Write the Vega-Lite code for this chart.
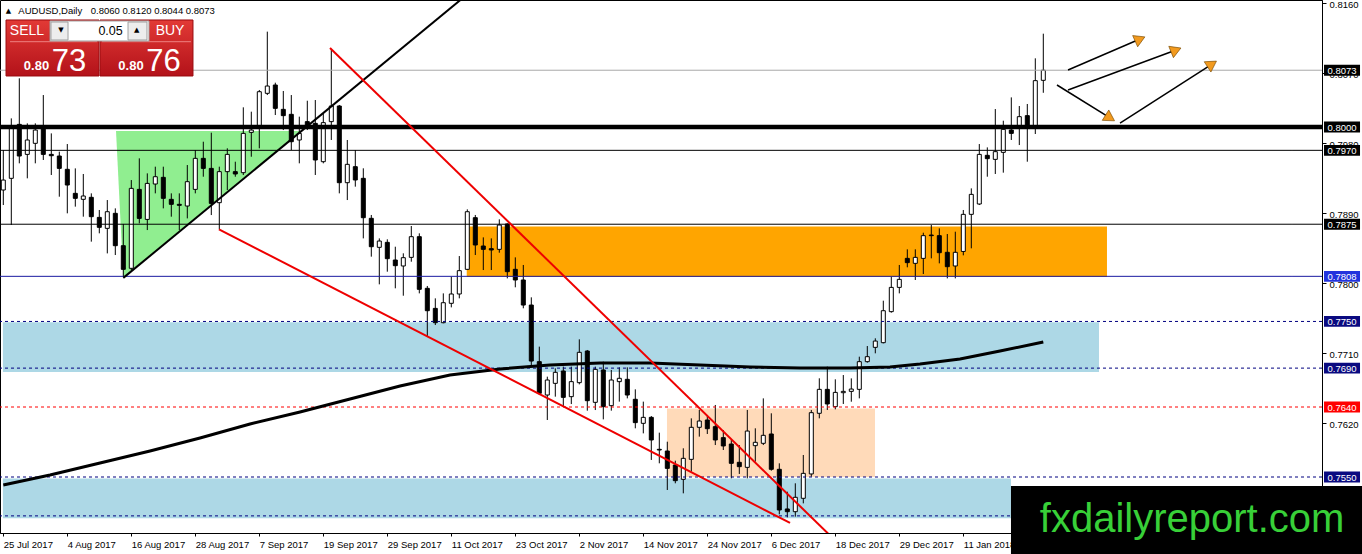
{
  "$schema": "https://vega.github.io/schema/vega-lite/v6.json",
  "width": 1322,
  "height": 533,
  "autosize": {"type": "none"},
  "padding": {"left": 0, "top": 0, "right": 40, "bottom": 21},
  "background": "#FFFFFF",
  "config": {
    "view": {"stroke": "#000000", "strokeWidth": 1},
    "axis": {
      "labelFont": "Liberation Sans",
      "labelFontSize": 9.5,
      "labelColor": "#000000",
      "domainColor": "#000000",
      "tickColor": "#000000",
      "grid": false
    },
    "text": {"font": "Liberation Sans"}
  },
  "datasets": {
    "candles": [
      {"i": 0, "o": 0.7919, "h": 0.79704, "l": 0.78997, "c": 0.79318},
      {"i": 1, "o": 0.7934, "h": 0.80111, "l": 0.7874, "c": 0.80013},
      {"i": 2, "o": 0.80034, "h": 0.80626, "l": 0.79533, "c": 0.79627},
      {"i": 3, "o": 0.79648, "h": 0.80047, "l": 0.7934, "c": 0.79833},
      {"i": 4, "o": 0.7979, "h": 0.80047, "l": 0.79533, "c": 0.79961},
      {"i": 5, "o": 0.80004, "h": 0.80411, "l": 0.79576, "c": 0.79648},
      {"i": 6, "o": 0.79648, "h": 0.79918, "l": 0.79383, "c": 0.79631},
      {"i": 7, "o": 0.79627, "h": 0.79683, "l": 0.79104, "c": 0.79468},
      {"i": 8, "o": 0.79456, "h": 0.79781, "l": 0.7889, "c": 0.79254},
      {"i": 9, "o": 0.79147, "h": 0.79468, "l": 0.78976, "c": 0.79083},
      {"i": 10, "o": 0.7907, "h": 0.79396, "l": 0.78847, "c": 0.79113},
      {"i": 11, "o": 0.79096, "h": 0.79147, "l": 0.78526, "c": 0.78847},
      {"i": 12, "o": 0.78838, "h": 0.78933, "l": 0.78633, "c": 0.7871},
      {"i": 13, "o": 0.78697, "h": 0.79061, "l": 0.78375, "c": 0.78911},
      {"i": 14, "o": 0.7889, "h": 0.78954, "l": 0.78354, "c": 0.78474},
      {"i": 15, "o": 0.78474, "h": 0.78753, "l": 0.78075, "c": 0.7817},
      {"i": 16, "o": 0.78183, "h": 0.79318, "l": 0.78161, "c": 0.79211},
      {"i": 17, "o": 0.79198, "h": 0.79597, "l": 0.78761, "c": 0.78825},
      {"i": 18, "o": 0.78812, "h": 0.79404, "l": 0.78675, "c": 0.79275},
      {"i": 19, "o": 0.79267, "h": 0.7949, "l": 0.79147, "c": 0.79361},
      {"i": 20, "o": 0.79353, "h": 0.7949, "l": 0.78954, "c": 0.79083},
      {"i": 21, "o": 0.7907, "h": 0.79147, "l": 0.78847, "c": 0.79006},
      {"i": 22, "o": 0.79006, "h": 0.79147, "l": 0.78675, "c": 0.78993},
      {"i": 23, "o": 0.78984, "h": 0.79511, "l": 0.78825, "c": 0.79297},
      {"i": 24, "o": 0.79198, "h": 0.79704, "l": 0.79147, "c": 0.79597},
      {"i": 25, "o": 0.79597, "h": 0.79811, "l": 0.79361, "c": 0.79468},
      {"i": 26, "o": 0.79468, "h": 0.79927, "l": 0.78868, "c": 0.79018},
      {"i": 27, "o": 0.79027, "h": 0.7949, "l": 0.78684, "c": 0.79426},
      {"i": 28, "o": 0.79426, "h": 0.79726, "l": 0.7919, "c": 0.79648},
      {"i": 29, "o": 0.79426, "h": 0.79554, "l": 0.79361, "c": 0.79396},
      {"i": 30, "o": 0.79413, "h": 0.80253, "l": 0.79383, "c": 0.79918},
      {"i": 31, "o": 0.79931, "h": 0.80197, "l": 0.79618, "c": 0.79961},
      {"i": 32, "o": 0.80004, "h": 0.80476, "l": 0.79726, "c": 0.80454},
      {"i": 33, "o": 0.80433, "h": 0.81226, "l": 0.80411, "c": 0.80527},
      {"i": 34, "o": 0.8054, "h": 0.8057, "l": 0.80154, "c": 0.8024},
      {"i": 35, "o": 0.80227, "h": 0.80463, "l": 0.79961, "c": 0.80146},
      {"i": 36, "o": 0.80163, "h": 0.80411, "l": 0.79704, "c": 0.79811},
      {"i": 37, "o": 0.79833, "h": 0.80133, "l": 0.79533, "c": 0.79918},
      {"i": 38, "o": 0.80069, "h": 0.80338, "l": 0.79961, "c": 0.80004},
      {"i": 39, "o": 0.80047, "h": 0.80347, "l": 0.79383, "c": 0.79576},
      {"i": 40, "o": 0.79554, "h": 0.80176, "l": 0.79533, "c": 0.80056},
      {"i": 41, "o": 0.80069, "h": 0.80999, "l": 0.79833, "c": 0.8027},
      {"i": 42, "o": 0.8027, "h": 0.80283, "l": 0.79147, "c": 0.79284},
      {"i": 43, "o": 0.79284, "h": 0.79833, "l": 0.79061, "c": 0.7952},
      {"i": 44, "o": 0.7949, "h": 0.79704, "l": 0.79233, "c": 0.79319},
      {"i": 45, "o": 0.7934, "h": 0.79469, "l": 0.78568, "c": 0.78834},
      {"i": 46, "o": 0.78826, "h": 0.78869, "l": 0.78333, "c": 0.78461},
      {"i": 47, "o": 0.78453, "h": 0.78568, "l": 0.77977, "c": 0.78534},
      {"i": 48, "o": 0.78517, "h": 0.78556, "l": 0.7814, "c": 0.78307},
      {"i": 49, "o": 0.7829, "h": 0.78461, "l": 0.77926, "c": 0.78217},
      {"i": 50, "o": 0.78213, "h": 0.78376, "l": 0.77831, "c": 0.7832},
      {"i": 51, "o": 0.78324, "h": 0.78727, "l": 0.78268, "c": 0.7859},
      {"i": 52, "o": 0.7859, "h": 0.78633, "l": 0.77861, "c": 0.77913},
      {"i": 53, "o": 0.77926, "h": 0.77956, "l": 0.77304, "c": 0.77638},
      {"i": 54, "o": 0.77668, "h": 0.77797, "l": 0.77454, "c": 0.77484},
      {"i": 55, "o": 0.77484, "h": 0.77861, "l": 0.77476, "c": 0.77741},
      {"i": 56, "o": 0.77733, "h": 0.78076, "l": 0.77681, "c": 0.77853},
      {"i": 57, "o": 0.77853, "h": 0.78341, "l": 0.77797, "c": 0.78153},
      {"i": 58, "o": 0.7817, "h": 0.78941, "l": 0.78161, "c": 0.78911},
      {"i": 59, "o": 0.78834, "h": 0.78869, "l": 0.78354, "c": 0.78483},
      {"i": 60, "o": 0.7847, "h": 0.78581, "l": 0.78161, "c": 0.78427},
      {"i": 61, "o": 0.78436, "h": 0.78568, "l": 0.78161, "c": 0.78419},
      {"i": 62, "o": 0.78427, "h": 0.78813, "l": 0.78384, "c": 0.7874},
      {"i": 63, "o": 0.78753, "h": 0.78761, "l": 0.78054, "c": 0.7814},
      {"i": 64, "o": 0.7817, "h": 0.78324, "l": 0.77939, "c": 0.78033},
      {"i": 65, "o": 0.78033, "h": 0.78226, "l": 0.77669, "c": 0.77711},
      {"i": 66, "o": 0.77711, "h": 0.7781, "l": 0.7694, "c": 0.76991},
      {"i": 67, "o": 0.76983, "h": 0.77176, "l": 0.76554, "c": 0.76576},
      {"i": 68, "o": 0.76554, "h": 0.7679, "l": 0.76233, "c": 0.76747},
      {"i": 69, "o": 0.76704, "h": 0.76897, "l": 0.76533, "c": 0.76846},
      {"i": 70, "o": 0.76863, "h": 0.76919, "l": 0.76404, "c": 0.76524},
      {"i": 71, "o": 0.76533, "h": 0.76919, "l": 0.76438, "c": 0.76726},
      {"i": 72, "o": 0.76713, "h": 0.7727, "l": 0.76691, "c": 0.77103},
      {"i": 73, "o": 0.7712, "h": 0.77133, "l": 0.76353, "c": 0.76481},
      {"i": 74, "o": 0.7646, "h": 0.76919, "l": 0.76361, "c": 0.76884},
      {"i": 75, "o": 0.76876, "h": 0.76983, "l": 0.76241, "c": 0.76404},
      {"i": 76, "o": 0.76417, "h": 0.76876, "l": 0.76353, "c": 0.76747},
      {"i": 77, "o": 0.76726, "h": 0.7691, "l": 0.76469, "c": 0.76769},
      {"i": 78, "o": 0.76756, "h": 0.7691, "l": 0.76511, "c": 0.76554},
      {"i": 79, "o": 0.76499, "h": 0.76627, "l": 0.76126, "c": 0.76199},
      {"i": 80, "o": 0.7619, "h": 0.76469, "l": 0.76061, "c": 0.76267},
      {"i": 81, "o": 0.76267, "h": 0.76284, "l": 0.75719, "c": 0.75976},
      {"i": 82, "o": 0.75856, "h": 0.7607, "l": 0.75676, "c": 0.75847},
      {"i": 83, "o": 0.75834, "h": 0.75954, "l": 0.75333, "c": 0.75611},
      {"i": 84, "o": 0.75654, "h": 0.7571, "l": 0.75419, "c": 0.75453},
      {"i": 85, "o": 0.7547, "h": 0.75869, "l": 0.7529, "c": 0.7574},
      {"i": 86, "o": 0.75727, "h": 0.76254, "l": 0.75569, "c": 0.76139},
      {"i": 87, "o": 0.76139, "h": 0.76362, "l": 0.76019, "c": 0.7622},
      {"i": 88, "o": 0.76233, "h": 0.76297, "l": 0.76053, "c": 0.76121},
      {"i": 89, "o": 0.76147, "h": 0.76426, "l": 0.75911, "c": 0.75976},
      {"i": 90, "o": 0.76006, "h": 0.76104, "l": 0.75847, "c": 0.75899},
      {"i": 91, "o": 0.75924, "h": 0.75976, "l": 0.75483, "c": 0.75676},
      {"i": 92, "o": 0.75689, "h": 0.75911, "l": 0.75539, "c": 0.75633},
      {"i": 93, "o": 0.75624, "h": 0.76362, "l": 0.75483, "c": 0.76091},
      {"i": 94, "o": 0.75903, "h": 0.76126, "l": 0.75697, "c": 0.75946},
      {"i": 95, "o": 0.75933, "h": 0.76511, "l": 0.75911, "c": 0.76036},
      {"i": 96, "o": 0.76053, "h": 0.76319, "l": 0.75581, "c": 0.75599},
      {"i": 97, "o": 0.75599, "h": 0.75676, "l": 0.7502, "c": 0.75076},
      {"i": 98, "o": 0.75089, "h": 0.75311, "l": 0.74981, "c": 0.75054},
      {"i": 99, "o": 0.75054, "h": 0.75419, "l": 0.7499, "c": 0.75239},
      {"i": 100, "o": 0.75226, "h": 0.75783, "l": 0.75161, "c": 0.75547},
      {"i": 101, "o": 0.75539, "h": 0.76362, "l": 0.75504, "c": 0.76327},
      {"i": 102, "o": 0.76319, "h": 0.76769, "l": 0.76254, "c": 0.76627},
      {"i": 103, "o": 0.76627, "h": 0.76919, "l": 0.76362, "c": 0.76439},
      {"i": 104, "o": 0.76404, "h": 0.76756, "l": 0.7637, "c": 0.76588},
      {"i": 105, "o": 0.76584, "h": 0.76811, "l": 0.76439, "c": 0.76601},
      {"i": 106, "o": 0.76601, "h": 0.76768, "l": 0.76468, "c": 0.76631},
      {"i": 107, "o": 0.76627, "h": 0.77047, "l": 0.76511, "c": 0.76983},
      {"i": 108, "o": 0.76983, "h": 0.77184, "l": 0.7697, "c": 0.77047},
      {"i": 109, "o": 0.77167, "h": 0.77283, "l": 0.7709, "c": 0.77248},
      {"i": 110, "o": 0.77227, "h": 0.77767, "l": 0.77218, "c": 0.77638},
      {"i": 111, "o": 0.77626, "h": 0.78076, "l": 0.77613, "c": 0.77938},
      {"i": 112, "o": 0.77938, "h": 0.78226, "l": 0.77861, "c": 0.78041},
      {"i": 113, "o": 0.78311, "h": 0.78427, "l": 0.78196, "c": 0.78256},
      {"i": 114, "o": 0.78247, "h": 0.78427, "l": 0.78033, "c": 0.78324},
      {"i": 115, "o": 0.78311, "h": 0.78641, "l": 0.7811, "c": 0.78603},
      {"i": 116, "o": 0.78611, "h": 0.7874, "l": 0.78311, "c": 0.78603},
      {"i": 117, "o": 0.78603, "h": 0.78697, "l": 0.78247, "c": 0.78384},
      {"i": 118, "o": 0.78389, "h": 0.78624, "l": 0.78054, "c": 0.78204},
      {"i": 119, "o": 0.78213, "h": 0.78654, "l": 0.78054, "c": 0.78389},
      {"i": 120, "o": 0.784, "h": 0.78933, "l": 0.7835, "c": 0.78877},
      {"i": 121, "o": 0.78877, "h": 0.79211, "l": 0.7844, "c": 0.79134},
      {"i": 122, "o": 0.7901, "h": 0.79781, "l": 0.78997, "c": 0.79648},
      {"i": 123, "o": 0.79636, "h": 0.79738, "l": 0.79361, "c": 0.79593},
      {"i": 124, "o": 0.79584, "h": 0.80231, "l": 0.79396, "c": 0.79683},
      {"i": 125, "o": 0.79674, "h": 0.80081, "l": 0.79413, "c": 0.7997},
      {"i": 126, "o": 0.79961, "h": 0.80381, "l": 0.79833, "c": 0.79918},
      {"i": 127, "o": 0.80004, "h": 0.8027, "l": 0.79768, "c": 0.80133},
      {"i": 128, "o": 0.80146, "h": 0.80296, "l": 0.79554, "c": 0.80004},
      {"i": 129, "o": 0.80004, "h": 0.80883, "l": 0.7991, "c": 0.80596},
      {"i": 130, "o": 0.806, "h": 0.812, "l": 0.8044, "c": 0.8073}
    ],
    "ma": [
      {"i": 0, "v": 0.75397},
      {"i": 5.84, "v": 0.75526},
      {"i": 12.09, "v": 0.7568},
      {"i": 18.34, "v": 0.75834},
      {"i": 24.59, "v": 0.76002},
      {"i": 30.84, "v": 0.76182},
      {"i": 37.09, "v": 0.76336},
      {"i": 43.34, "v": 0.76503},
      {"i": 49.59, "v": 0.7667},
      {"i": 55.84, "v": 0.76812},
      {"i": 62.09, "v": 0.76889},
      {"i": 68.34, "v": 0.7694},
      {"i": 74.59, "v": 0.76966},
      {"i": 80.84, "v": 0.76966},
      {"i": 87.09, "v": 0.7694},
      {"i": 93.34, "v": 0.76914},
      {"i": 99.59, "v": 0.76902},
      {"i": 105.84, "v": 0.76902},
      {"i": 110.84, "v": 0.76914},
      {"i": 114.59, "v": 0.76953},
      {"i": 119.59, "v": 0.77017},
      {"i": 124.59, "v": 0.7712},
      {"i": 130, "v": 0.77236}
    ],
    "levels": [
      {"p": 0.8073, "kind": "current"},
      {"p": 0.8, "kind": "major"},
      {"p": 0.797, "kind": "black"},
      {"p": 0.7875, "kind": "black"},
      {"p": 0.7808, "kind": "blue"},
      {"p": 0.775, "kind": "navy"},
      {"p": 0.769, "kind": "navy"},
      {"p": 0.764, "kind": "red"},
      {"p": 0.755, "kind": "navy"},
      {"p": 0.75, "kind": "navy"}
    ],
    "zones": [
      {"x1": 57.93, "x2": 137.96, "lo": 0.7807, "hi": 0.7872, "zone": "orange"},
      {"x1": -0.05, "x2": 136.96, "lo": 0.7685, "hi": 0.7749, "zone": "blue"},
      {"x1": -0.05, "x2": 125.96, "lo": 0.7497, "hi": 0.7548, "zone": "blue"},
      {"x1": 82.96, "x2": 108.96, "lo": 0.755, "hi": 0.7638, "zone": "peach"}
    ],
    "triangle": [
      {"i": 14.09, "lo": 0.79949, "hi": 0.79949},
      {"i": 15.0, "lo": 0.7806, "hi": 0.79949},
      {"i": 37.3, "lo": 0.79949, "hi": 0.79949}
    ],
    "trends": [
      {"x1": 15.0, "y1": 0.7806, "x2": 60, "y2": 0.81876, "col": "black"},
      {"x1": 40.84, "y1": 0.81016, "x2": 105, "y2": 0.74582, "col": "red"},
      {"x1": 26.96, "y1": 0.78685, "x2": 98.34, "y2": 0.74909, "col": "red"}
    ],
    "arrows": [
      {"x1": 133.09, "y1": 0.80733, "x2": 142.09, "y2": 0.81131, "dir": 66},
      {"x1": 133.09, "y1": 0.80476, "x2": 146.59, "y2": 0.8099, "dir": 68},
      {"x1": 131.71, "y1": 0.8054, "x2": 138.34, "y2": 0.80116, "dir": 122},
      {"x1": 139.59, "y1": 0.80051, "x2": 151.09, "y2": 0.8081, "dir": 57}
    ],
    "panel": [
      {"x1": 0.34, "x2": 11.96, "y1": 0.81376, "y2": 0.80656},
      {"x1": 12.09, "x2": 23.71, "y1": 0.81376, "y2": 0.80656}
    ],
    "seps": [
      {"x1": 0.84, "x2": 11.71, "y": 0.81097},
      {"x1": 12.34, "x2": 23.46, "y": 0.81097}
    ],
    "spin": [
      {"x1": 5.84, "x2": 18.21, "y1": 0.81363, "y2": 0.81106, "part": "box"},
      {"x1": 5.96, "x2": 8.09, "y1": 0.8135, "y2": 0.81119, "part": "btn"},
      {"x1": 15.59, "x2": 17.96, "y1": 0.8135, "y2": 0.81119, "part": "btn"}
    ],
    "labels": [
      {"i": 0.65, "p": 0.81491, "t": "▲", "style": "tri"},
      {"i": 1.88, "p": 0.81491, "t": "AUDUSD,Daily", "style": "hdr"},
      {"i": 10.93, "p": 0.81491, "t": "0.8060 0.8120 0.8044 0.8073", "style": "hdr"},
      {"i": 2.96, "p": 0.81234, "t": "SELL", "style": "btn"},
      {"i": 20.84, "p": 0.81234, "t": "BUY", "style": "btn"},
      {"i": 14.93, "p": 0.81234, "t": "0.05", "style": "lot"},
      {"i": 7.2, "p": 0.81247, "t": "▼", "style": "tri"},
      {"i": 16.68, "p": 0.81247, "t": "▲", "style": "tri"},
      {"i": 8.21, "p": 0.8072, "t": "73", "style": "big"},
      {"i": 20.03, "p": 0.8072, "t": "76", "style": "big"},
      {"i": 4.15, "p": 0.80733, "t": "0.80", "style": "small"},
      {"i": 15.96, "p": 0.80733, "t": "0.80", "style": "small"},
      {"i": 148.6, "p": 0.74793, "t": "fxdailyreport.com", "style": "wm"}
    ],
    "wm": [
      {"x1": 125.96, "x2": 171, "y1": 0.75384, "y2": 0.744}
    ]
  },
  "layer": [
    {
      "data": {"name": "zones"},
      "mark": {"type": "rect", "clip": true},
      "encoding": {
        "x": {
          "field": "x1",
          "type": "quantitative",
          "scale": {"domain": [-0.4125, 164.8375], "nice": false, "zero": false, "padding": 0},
          "axis": {
            "title": null,
            "values": [0, 8, 16, 24, 32, 40, 48, 56, 64, 72, 80, 88, 96, 104, 112, 120],
            "labelExpr": "['25 Jul 2017','4 Aug 2017','16 Aug 2017','28 Aug 2017','7 Sep 2017','19 Sep 2017','29 Sep 2017','11 Oct 2017','23 Oct 2017','2 Nov 2017','14 Nov 2017','24 Nov 2017','6 Dec 2017','18 Dec 2017','29 Dec 2017','11 Jan 2018'][round(datum.value / 8)]",
            "labelAlign": "left",
            "labelPadding": 3,
            "tickSize": 3,
            "labelOverlap": false,
            "labelFlush": false,
            "labelBound": false
          }
        },
        "x2": {"field": "x2"},
        "y": {
          "field": "lo",
          "type": "quantitative",
          "scale": {"domain": [0.7478, 0.81633], "nice": false, "zero": false, "padding": 0},
          "axis": {
            "title": null,
            "orient": "right",
            "values": [0.816, 0.8115, 0.807, 0.8025, 0.798, 0.7935, 0.789, 0.7845, 0.78, 0.7755, 0.771, 0.7665, 0.762, 0.7575, 0.753],
            "format": ".4f",
            "tickSize": 4,
            "labelPadding": 3,
            "labelOffset": 1.5,
            "labelOverlap": false,
            "labelFlush": false
          }
        },
        "y2": {"field": "hi"},
        "fill": {
          "condition": [
            {"test": "datum.zone === 'orange'", "value": "#FFA500"},
            {"test": "datum.zone === 'peach'", "value": "#FFDAB9"}
          ],
          "value": "#ADD8E6"
        }
      }
    },
    {
      "data": {"name": "triangle"},
      "mark": {"type": "area", "fill": "#90EE90", "orient": "vertical"},
      "encoding": {
        "x": {"field": "i", "type": "quantitative", "title": null},
        "y": {"field": "lo", "type": "quantitative", "title": null},
        "y2": {"field": "hi"}
      }
    },
    {
      "data": {"name": "candles"},
      "mark": {"type": "rule", "stroke": "#000000", "strokeWidth": 1},
      "encoding": {
        "x": {"field": "i", "type": "quantitative", "title": null},
        "y": {"field": "l", "type": "quantitative", "title": null},
        "y2": {"field": "h"}
      }
    },
    {
      "data": {"name": "candles"},
      "mark": {"type": "bar", "orient": "vertical", "width": 4, "stroke": "#000000", "strokeWidth": 1},
      "encoding": {
        "x": {"field": "i", "type": "quantitative", "title": null},
        "y": {"field": "o", "type": "quantitative", "title": null},
        "y2": {"field": "c"},
        "fill": {"condition": {"test": "datum.c >= datum.o", "value": "#FFFFFF"}, "value": "#000000"}
      }
    },
    {
      "data": {"name": "levels"},
      "mark": {"type": "rule"},
      "encoding": {
        "y": {"field": "p", "type": "quantitative", "title": null},
        "stroke": {
          "condition": [
            {"test": "datum.kind === 'current'", "value": "#A8A8A8"},
            {"test": "datum.kind === 'blue'", "value": "#1A1AA0"},
            {"test": "datum.kind === 'navy'", "value": "#000080"},
            {"test": "datum.kind === 'red'", "value": "#FF0000"}
          ],
          "value": "#000000"
        },
        "strokeWidth": {"condition": {"test": "datum.kind === 'major'", "value": 4.5}, "value": 1},
        "strokeDash": {"condition": {"test": "datum.kind === 'navy' || datum.kind === 'red'", "value": [3, 3]}, "value": [1, 0]}
      }
    },
    {
      "data": {"name": "ma"},
      "mark": {"type": "line", "stroke": "#000000", "strokeWidth": 3},
      "encoding": {
        "x": {"field": "i", "type": "quantitative", "title": null},
        "y": {"field": "v", "type": "quantitative", "title": null}
      }
    },
    {
      "data": {"name": "trends"},
      "mark": {"type": "rule", "strokeWidth": 2, "clip": true},
      "encoding": {
        "x": {"field": "x1", "type": "quantitative", "title": null},
        "y": {"field": "y1", "type": "quantitative", "title": null},
        "x2": {"field": "x2"},
        "y2": {"field": "y2"},
        "stroke": {"condition": {"test": "datum.col === 'red'", "value": "#EE0000"}, "value": "#000000"}
      }
    },
    {
      "data": {"name": "arrows"},
      "mark": {"type": "rule", "stroke": "#000000", "strokeWidth": 1.5},
      "encoding": {
        "x": {"field": "x1", "type": "quantitative", "title": null},
        "y": {"field": "y1", "type": "quantitative", "title": null},
        "x2": {"field": "x2"},
        "y2": {"field": "y2"}
      }
    },
    {
      "data": {"name": "arrows"},
      "mark": {"type": "point", "shape": "triangle-up", "filled": true, "fill": "#F29A1E", "stroke": "#7A4A00", "strokeWidth": 0.6, "size": 150, "opacity": 1},
      "encoding": {
        "x": {"field": "x2", "type": "quantitative", "title": null},
        "y": {"field": "y2", "type": "quantitative", "title": null},
        "angle": {"field": "dir", "type": "quantitative", "scale": null}
      }
    },
    {
      "data": {"name": "levels"},
      "transform": [{"filter": "datum.p > 0.751"}],
      "mark": {"type": "point", "shape": "M-1,-0.3H1V0.3H-1Z", "filled": true, "size": 1296, "opacity": 1, "strokeWidth": 0},
      "encoding": {
        "x": {"datum": 167.34, "type": "quantitative", "title": null},
        "y": {"field": "p", "type": "quantitative", "title": null},
        "fill": {
          "condition": [
            {"test": "datum.kind === 'blue'", "value": "#2233DD"},
            {"test": "datum.kind === 'navy'", "value": "#0A0A80"},
            {"test": "datum.kind === 'red'", "value": "#FF0000"}
          ],
          "value": "#000000"
        }
      }
    },
    {
      "data": {"name": "levels"},
      "transform": [{"filter": "datum.p > 0.751"}],
      "mark": {"type": "text", "fill": "#FFFFFF", "fontSize": 9.5, "align": "center", "baseline": "middle", "dy": 0.5},
      "encoding": {
        "x": {"datum": 167.34, "type": "quantitative", "title": null},
        "y": {"field": "p", "type": "quantitative", "title": null},
        "text": {"field": "p", "type": "quantitative", "format": ".4f"}
      }
    },
    {
      "data": {"name": "panel"},
      "mark": {
        "type": "rect",
        "stroke": "#9A0A0E",
        "strokeWidth": 1,
        "fill": {
          "gradient": "linear", "x1": 0, "y1": 0, "x2": 0, "y2": 1,
          "stops": [{"offset": 0, "color": "#E23A36"}, {"offset": 1, "color": "#B3121A"}]
        }
      },
      "encoding": {
        "x": {"field": "x1", "type": "quantitative", "title": null},
        "x2": {"field": "x2"},
        "y": {"field": "y1", "type": "quantitative", "title": null},
        "y2": {"field": "y2"}
      }
    },
    {
      "data": {"name": "seps"},
      "mark": {"type": "rule", "stroke": "#EE8080", "strokeWidth": 1},
      "encoding": {
        "x": {"field": "x1", "type": "quantitative", "title": null},
        "x2": {"field": "x2"},
        "y": {"field": "y", "type": "quantitative", "title": null}
      }
    },
    {
      "data": {"name": "spin"},
      "mark": {"type": "rect", "stroke": "#A0A0A0", "strokeWidth": 1},
      "encoding": {
        "x": {"field": "x1", "type": "quantitative", "title": null},
        "x2": {"field": "x2"},
        "y": {"field": "y1", "type": "quantitative", "title": null},
        "y2": {"field": "y2"},
        "fill": {"condition": {"test": "datum.part === 'btn'", "value": "#EDEDED"}, "value": "#FFFFFF"}
      }
    },
    {
      "data": {"name": "labels"},
      "transform": [{"filter": "datum.style === 'hdr'"}],
      "mark": {"type": "text", "fontSize": 9.5, "fill": "#000000", "align": "left", "baseline": "middle"},
      "encoding": {
        "x": {"field": "i", "type": "quantitative", "title": null},
        "y": {"field": "p", "type": "quantitative", "title": null},
        "text": {"field": "t"}
      }
    },
    {
      "data": {"name": "labels"},
      "transform": [{"filter": "datum.style === 'tri'"}],
      "mark": {"type": "text", "font": "DejaVu Sans", "fontSize": 7, "fill": "#000000", "align": "center", "baseline": "middle"},
      "encoding": {
        "x": {"field": "i", "type": "quantitative", "title": null},
        "y": {"field": "p", "type": "quantitative", "title": null},
        "text": {"field": "t"}
      }
    },
    {
      "data": {"name": "labels"},
      "transform": [{"filter": "datum.style === 'btn'"}],
      "mark": {"type": "text", "fontSize": 14, "fill": "#FFFFFF", "align": "center", "baseline": "middle"},
      "encoding": {
        "x": {"field": "i", "type": "quantitative", "title": null},
        "y": {"field": "p", "type": "quantitative", "title": null},
        "text": {"field": "t"}
      }
    },
    {
      "data": {"name": "labels"},
      "transform": [{"filter": "datum.style === 'lot'"}],
      "mark": {"type": "text", "fontSize": 12.5, "fill": "#000000", "align": "right", "baseline": "middle"},
      "encoding": {
        "x": {"field": "i", "type": "quantitative", "title": null},
        "y": {"field": "p", "type": "quantitative", "title": null},
        "text": {"field": "t"}
      }
    },
    {
      "data": {"name": "labels"},
      "transform": [{"filter": "datum.style === 'big'"}],
      "mark": {"type": "text", "fontSize": 31, "fill": "#FFFFFF", "align": "center", "baseline": "alphabetic"},
      "encoding": {
        "x": {"field": "i", "type": "quantitative", "title": null},
        "y": {"field": "p", "type": "quantitative", "title": null},
        "text": {"field": "t"}
      }
    },
    {
      "data": {"name": "labels"},
      "transform": [{"filter": "datum.style === 'small'"}],
      "mark": {"type": "text", "fontSize": 13, "fontWeight": "bold", "fill": "#FFFFFF", "align": "center", "baseline": "alphabetic"},
      "encoding": {
        "x": {"field": "i", "type": "quantitative", "title": null},
        "y": {"field": "p", "type": "quantitative", "title": null},
        "text": {"field": "t"}
      }
    },
    {
      "data": {"name": "wm"},
      "mark": {"type": "rect", "fill": "#000000"},
      "encoding": {
        "x": {"field": "x1", "type": "quantitative", "title": null},
        "x2": {"field": "x2"},
        "y": {"field": "y1", "type": "quantitative", "title": null},
        "y2": {"field": "y2"}
      }
    },
    {
      "data": {"name": "labels"},
      "transform": [{"filter": "datum.style === 'wm'"}],
      "mark": {"type": "text", "fontSize": 40, "fill": "#38D038", "align": "center", "baseline": "alphabetic"},
      "encoding": {
        "x": {"field": "i", "type": "quantitative", "title": null},
        "y": {"field": "p", "type": "quantitative", "title": null},
        "text": {"field": "t"}
      }
    }
  ]
}
